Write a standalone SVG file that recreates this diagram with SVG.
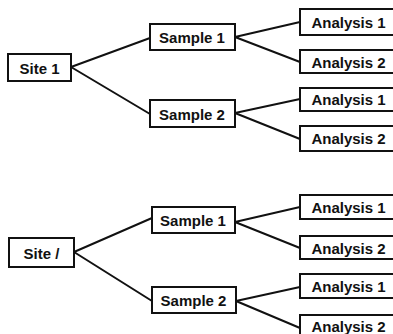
<svg xmlns="http://www.w3.org/2000/svg" width="393" height="334" viewBox="0 0 393 334">
<style>
.b{fill:#fff;stroke:#111;stroke-width:2}
.t{font-family:"Liberation Sans",Arial,sans-serif;font-weight:bold;font-size:15px;fill:#111;text-anchor:middle;dominant-baseline:central}
.c{stroke:#111;stroke-width:2;fill:none}
</style>
<rect width="393" height="334" fill="#fff"/>
<g id="connectors">
<path class="c" d="M71,67 L150,38 M71,67 L150,114"/>
<path class="c" d="M235,37 L300,22 M235,37 L300,62"/>
<path class="c" d="M235,113 L300,99 M235,113 L300,139"/>
<path class="c" d="M74,252 L152,218 M74,252 L152,301"/>
<path class="c" d="M235,222 L300,207 M235,222 L300,248"/>
<path class="c" d="M236,301 L300,287 M236,301 L300,328"/>
</g>
<g id="site1"><rect class="b" x="8" y="54" width="63" height="27"/><text class="t" x="39.5" y="68">Site 1</text></g>
<g id="s1a"><rect class="b" x="150" y="24" width="85" height="26"/><text class="t" x="192" y="37.5">Sample 1</text></g>
<g id="s1b"><rect class="b" x="150" y="100" width="85" height="27"/><text class="t" x="192" y="114">Sample 2</text></g>
<g id="a1"><rect class="b" x="300" y="9" width="97" height="26"/><text class="t" x="348.5" y="22.5">Analysis 1</text></g>
<g id="a2"><rect class="b" x="300" y="50" width="97" height="23"/><text class="t" x="348.5" y="62">Analysis 2</text></g>
<g id="a3"><rect class="b" x="300" y="88" width="97" height="23"/><text class="t" x="348.5" y="99.5">Analysis 1</text></g>
<g id="a4"><rect class="b" x="300" y="126" width="97" height="25"/><text class="t" x="348.5" y="138.5">Analysis 2</text></g>
<g id="sitei"><rect class="b" x="9" y="238" width="65" height="29"/><text class="t" x="41.5" y="253">Site /</text></g>
<g id="s2a"><rect class="b" x="152" y="207" width="83" height="26"/><text class="t" x="193" y="220.5">Sample 1</text></g>
<g id="s2b"><rect class="b" x="152" y="287" width="84" height="26"/><text class="t" x="193.5" y="300.5">Sample 2</text></g>
<g id="a5"><rect class="b" x="300" y="195" width="97" height="24"/><text class="t" x="348.5" y="207.5">Analysis 1</text></g>
<g id="a6"><rect class="b" x="300" y="236" width="97" height="23"/><text class="t" x="348.5" y="248">Analysis 2</text></g>
<g id="a7"><rect class="b" x="300" y="274" width="97" height="24"/><text class="t" x="348.5" y="286.5">Analysis 1</text></g>
<g id="a8"><rect class="b" x="300" y="315" width="97" height="25"/><text class="t" x="348.5" y="326">Analysis 2</text></g>
</svg>
